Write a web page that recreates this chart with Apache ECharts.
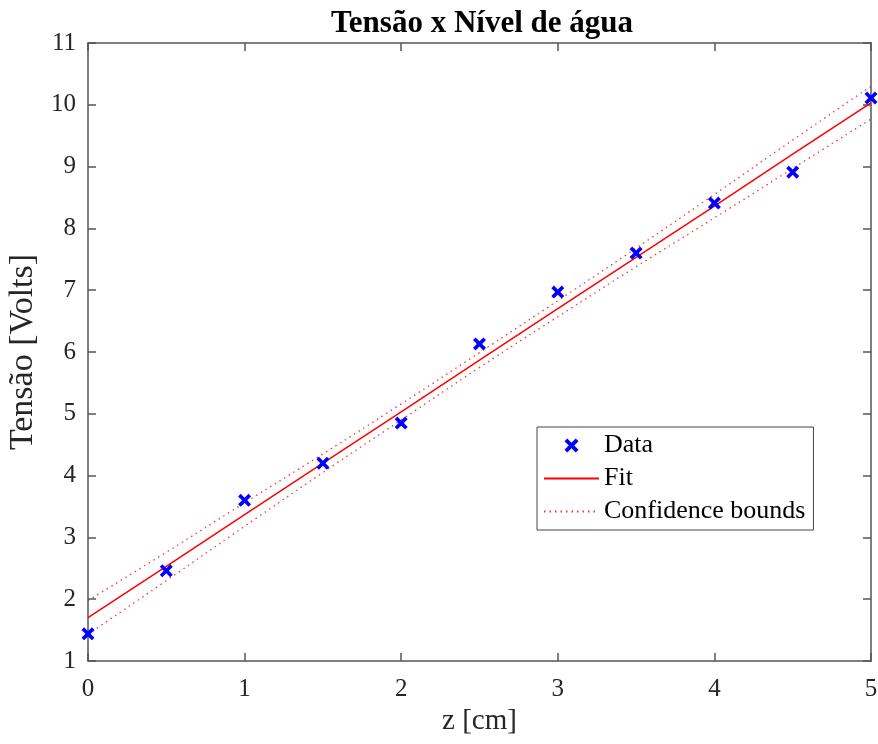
<!DOCTYPE html>
<html>
<head>
<meta charset="utf-8">
<script src="https://cdn.jsdelivr.net/npm/echarts@6/dist/echarts.min.js"></script>
<style>
  html, body { margin: 0; padding: 0; background: #fff; }
  #chart { width: 878px; height: 744px; }
</style>
</head>
<body>
<div id="chart"></div>
<script>
// z [cm] positions
const zValues = [0, 0.5, 1, 1.5, 2, 2.5, 3, 3.5, 4, 4.5, 5];
// measured voltage
const dataValues = [1.44, 2.46, 3.60, 4.20, 4.85, 6.13, 6.97, 7.60, 8.41, 8.91, 10.11];
// fitted line + confidence bounds
const fitValues = [1.70, 2.53, 3.37, 4.20, 5.03, 5.87, 6.70, 7.53, 8.36, 9.20, 10.03];
const upperValues = [1.98, 2.76, 3.56, 4.35, 5.16, 5.99, 6.83, 7.68, 8.55, 9.43, 10.30];
const lowerValues = [1.43, 2.30, 3.18, 4.05, 4.90, 5.75, 6.57, 7.38, 8.17, 8.97, 9.77];

const xTicks = { min: 0, max: 5, interval: 1 };
const yTicks = { min: 1, max: 11, interval: 1 };

const serif = "Liberation Serif";
const axisGrey = "#555";
const textGrey = "#262626";
const crossPath = "path://M0,2 L2,0 L5,3 L8,0 L10,2 L7,5 L10,8 L8,10 L5,7 L2,10 L0,8 L3,5 Z";

function pairs(ys) {
  return zValues.map((z, i) => [z, ys[i]]);
}

const chart = echarts.init(document.getElementById("chart"));

const boxAxis = (extra) => Object.assign({
  type: "value",
  axisLine: { show: true, onZero: false, lineStyle: { color: axisGrey, width: 1.5 } },
  axisTick: { show: true, inside: true, length: 8, lineStyle: { color: axisGrey, width: 1.5 } },
  splitLine: { show: false },
}, extra);

chart.setOption({
  animation: false,
  backgroundColor: "#fff",
  title: {
    text: "Tensão x Nível de água",
    left: 326,
    top: 3,
    textStyle: { fontFamily: serif, fontWeight: "bold", fontSize: 31, color: "#000" },
  },
  grid: { left: 88, top: 43, right: 7, bottom: 83, containLabel: false, outerBoundsMode: "none" },
  legend: {
    orient: "vertical",
    left: 537,
    top: 427,
    padding: [4, 8, 4, 6],
    itemGap: 4,
    itemWidth: 55,
    itemHeight: 14,
    borderColor: "#444",
    borderWidth: 1,
    backgroundColor: "#fff",
    textStyle: { fontFamily: serif, fontSize: 26, color: "#000", padding: [0, 0, 0, 0], lineHeight: 29 },
    data: [
      { name: "Data" },
      { name: "Fit", itemStyle: { opacity: 0 } },
      { name: "Confidence bounds", itemStyle: { opacity: 0 } },
    ],
  },
  xAxis: [
    boxAxis(Object.assign({
      position: "bottom",
      name: "z [cm]",
      nameLocation: "middle",
      nameGap: 45,
      nameTextStyle: { fontFamily: serif, fontSize: 29, color: textGrey },
      axisLabel: { fontFamily: serif, fontSize: 25, color: textGrey, margin: 16 },
    }, xTicks)),
    boxAxis(Object.assign({ position: "top", axisLabel: { show: false } }, xTicks)),
  ],
  yAxis: [
    boxAxis(Object.assign({
      position: "left",
      name: "Tensão [Volts]",
      nameLocation: "middle",
      nameGap: 46,
      nameRotate: 90,
      nameTextStyle: { fontFamily: serif, fontSize: 34, color: textGrey },
      axisLabel: { fontFamily: serif, fontSize: 25, color: textGrey, margin: 12 },
    }, yTicks)),
    boxAxis(Object.assign({ position: "right", axisLabel: { show: false } }, yTicks)),
  ],
  series: [
    {
      name: "Confidence bounds",
      type: "line",
      smooth: true,
      symbol: "none",
      data: pairs(upperValues),
      lineStyle: { color: "#ff0000", width: 1.3, type: [1.5, 4], opacity: 0.8 },
      itemStyle: { color: "#ff0000" },
      z: 2,
    },
    {
      name: "Confidence bounds",
      type: "line",
      smooth: true,
      symbol: "none",
      data: pairs(lowerValues),
      lineStyle: { color: "#ff0000", width: 1.3, type: [1.5, 4], opacity: 0.8 },
      itemStyle: { color: "#ff0000" },
      z: 2,
    },
    {
      name: "Fit",
      type: "line",
      symbol: "none",
      data: pairs(fitValues),
      lineStyle: { color: "#ff0000", width: 1.5 },
      itemStyle: { color: "#ff0000" },
      z: 3,
    },
    {
      name: "Data",
      type: "scatter",
      symbol: crossPath,
      symbolSize: 13,
      data: pairs(dataValues),
      itemStyle: { color: "#0000ff", opacity: 1 },
      z: 4,
    },
  ],
});
</script>
</body>
</html>
